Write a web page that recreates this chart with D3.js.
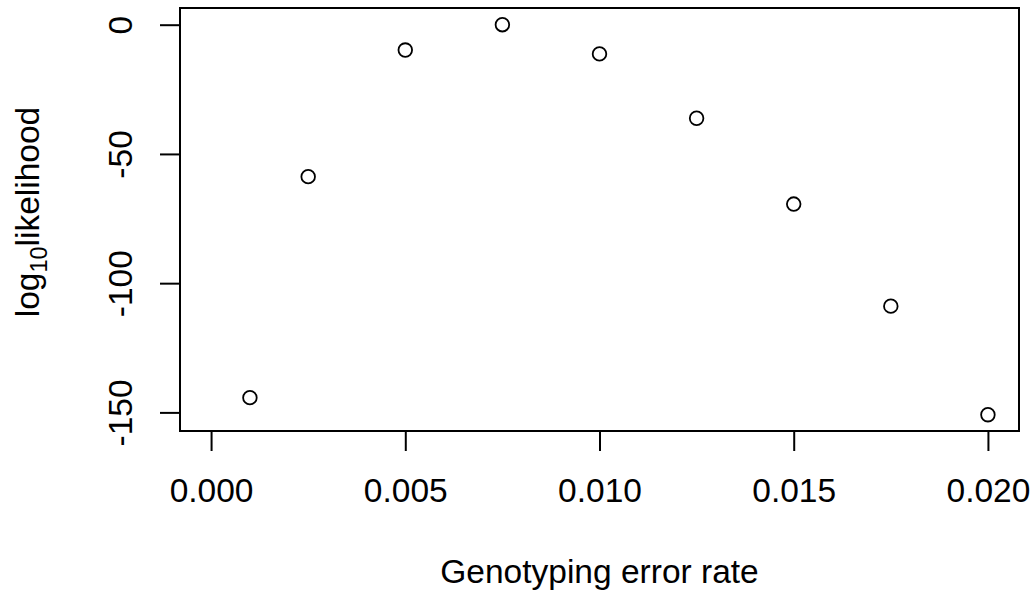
<!DOCTYPE html>
<html>
<head>
<meta charset="utf-8">
<script src="https://cdn.jsdelivr.net/npm/d3@7"></script>
<style>
  html, body { margin: 0; padding: 0; background: #ffffff; }
  svg { display: block; }
  text { font-family: "Liberation Sans", Arial, sans-serif; fill: #000; }
</style>
</head>
<body>
<svg id="chart" width="1036" height="594"></svg>
<script>
const errorRates = [0.001, 0.0025, 0.005, 0.0075, 0.01, 0.0125, 0.015, 0.0175, 0.02];
const logLik = [-144.3, -58.8, -9.8, 0, -11.3, -36.2, -69.4, -108.9, -150.9];
const xTicks = [0.000, 0.005, 0.010, 0.015, 0.020];
const xTickLabels = ["0.000", "0.005", "0.010", "0.015", "0.020"];
const yTicks = [0, -50, -100, -150];
const yTickLabels = ["0", "-50", "-100", "-150"];

(function () {
const svg = d3.select("#chart");
const pLeft = 180, pRight = 1019, pTop = 8, pBottom = 431;
const fs = 33.5;

const x = d3.scaleLinear().domain([-0.0008, 0.0208]).range([pLeft, pRight]);
const y = d3.scaleLinear().domain([-157.2, 6.46]).range([pBottom, pTop]);

// box
svg.append("rect")
  .attr("x", pLeft).attr("y", pTop)
  .attr("width", pRight - pLeft).attr("height", pBottom - pTop)
  .attr("fill", "none").attr("stroke", "#000").attr("stroke-width", 2);

// x axis
const xAxis = d3.axisBottom(x).tickValues(xTicks)
  .tickFormat((d, i) => xTickLabels[i]).tickSize(20).tickPadding(0);
const gx = svg.append("g").attr("transform", `translate(0,${pBottom})`).call(xAxis);
gx.select(".domain").attr("d", `M${x(xTicks[0])},0H${x(xTicks[xTicks.length-1])}`)
  .attr("stroke", "#000").attr("stroke-width", 2);
gx.selectAll(".tick line").attr("stroke", "#000").attr("stroke-width", 2);
gx.selectAll(".tick text")
  .attr("y", 502 - pBottom).attr("dy", null)
  .style("font-size", fs + "px").style("font-family", "Liberation Sans, Arial, sans-serif")
  .attr("fill", "#000");

// y axis
const yAxis = d3.axisLeft(y).tickValues(yTicks)
  .tickFormat((d, i) => yTickLabels[i]).tickSize(20).tickPadding(0);
const gy = svg.append("g").attr("transform", `translate(${pLeft},0)`).call(yAxis);
gy.select(".domain").attr("d", `M0,${y(yTicks[0])}V${y(yTicks[yTicks.length-1])}`)
  .attr("stroke", "#000").attr("stroke-width", 2);
gy.selectAll(".tick line").attr("stroke", "#000").attr("stroke-width", 2);
gy.selectAll(".tick text")
  .attr("x", null).attr("dy", null)
  .attr("text-anchor", "middle")
  .attr("transform", `translate(${132 - pLeft},0) rotate(-90)`)
  .style("font-size", fs + "px").style("font-family", "Liberation Sans, Arial, sans-serif")
  .attr("fill", "#000");

// points
svg.append("g").selectAll("circle")
  .data(errorRates.map((e, i) => ({ e, v: logLik[i] })))
  .join("circle")
  .attr("cx", d => x(d.e))
  .attr("cy", d => y(d.v))
  .attr("r", 6.8)
  .attr("fill", "none")
  .attr("stroke", "#000")
  .attr("stroke-width", 1.8);

// x label
svg.append("text")
  .attr("x", (pLeft + pRight) / 2)
  .attr("y", 583)
  .attr("text-anchor", "middle")
  .style("font-size", fs + "px")
  .text("Genotyping error rate");

// y label with subscript
const yl = svg.append("text")
  .attr("transform", `translate(39,212) rotate(-90)`)
  .attr("text-anchor", "middle")
  .style("font-size", fs + "px");
yl.append("tspan").text("log");
yl.append("tspan").attr("dy", 8).style("font-size", (fs * 0.7) + "px").text("10");
yl.append("tspan").attr("dy", -8).text("likelihood");
})();
</script>
</body>
</html>
